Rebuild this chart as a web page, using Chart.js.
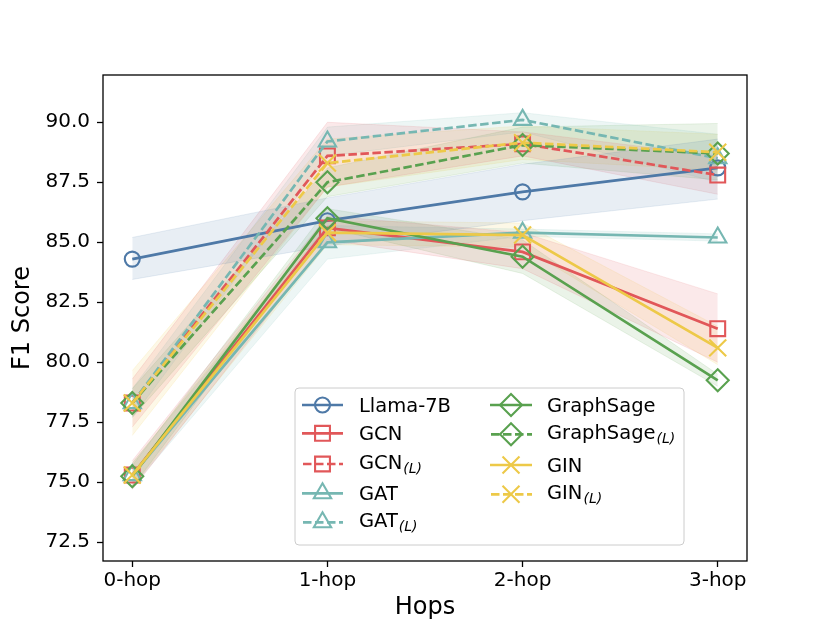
<!DOCTYPE html>
<html>
<head>
<meta charset="utf-8">
<script src="https://cdn.jsdelivr.net/npm/chart.js@4.4.1/dist/chart.umd.min.js"></script>
<style>
  html, body { margin: 0; padding: 0; background: #fff; }
  #wrap { width: 830px; height: 623px; }
</style>
</head>
<body>
<div id="wrap"><canvas id="chart" width="830" height="623"></canvas></div>
<script>
// x positions and tick labels
const hopLabels = ['0-hop', '1-hop', '2-hop', '3-hop'];
const yTicks = [72.5, 75.0, 77.5, 80.0, 82.5, 85.0, 87.5, 90.0];

// mean F1 per hop, with the lower / upper edge of each shaded band
const llama = [84.3, 85.9, 87.1, 88.1];
const llamaLow = [83.45, 84.85, 85.9, 86.8];
const llamaHigh = [85.2, 86.85, 88.25, 89.3];

const gcn = [75.3, 85.6, 84.6, 81.4];
const gcnLow = [74.7, 85.1, 83.9, 80.0];
const gcnHigh = [75.9, 86.1, 85.4, 82.85];

const gcnL = [78.3, 88.6, 89.1, 87.8];
const gcnLLow = [77.3, 87.3, 88.6, 87.0];
const gcnLHigh = [79.3, 90.0, 89.6, 88.6];

const gat = [75.3, 85.0, 85.4, 85.2];
const gatLow = [74.8, 84.3, 85.25, 85.05];
const gatHigh = [75.8, 85.7, 85.55, 85.35];

const gatL = [78.3, 89.2, 90.1, 88.5];
const gatLLow = [77.7, 88.6, 89.6, 87.5];
const gatLHigh = [78.9, 89.8, 90.4, 89.5];

const sage = [75.25, 86.0, 84.4, 79.25];
const sageLow = [74.8, 85.6, 83.7, 79.0];
const sageHigh = [75.7, 86.4, 85.1, 79.5];

const sageL = [78.3, 87.5, 89.05, 88.7];
const sageLLow = [77.7, 86.9, 88.3, 87.6];
const sageLHigh = [78.9, 88.1, 89.8, 89.95];

const gin = [75.3, 85.4, 85.3, 80.6];
const ginLow = [74.8, 84.9, 84.8, 79.9];
const ginHigh = [75.8, 85.9, 85.8, 81.5];

const ginL = [78.3, 88.3, 89.15, 88.75];
const ginLLow = [76.95, 87.3, 88.45, 88.0];
const ginLHigh = [79.65, 89.3, 89.85, 89.5];

const BLUE = '#4e79a7', RED = '#e15759', TEAL = '#76b7b2', GREEN = '#59a14f', YELLOW = '#edc948';

function rgba(hex, a) {
    const n = parseInt(hex.slice(1), 16);
    return `rgba(${n >> 16},${(n >> 8) & 255},${n & 255},${a})`;
}

const series = [
    { name: 'Llama-7B', sub: '', data: llama, low: llamaLow, high: llamaHigh, color: BLUE, style: 'circle', r: 7.5, dashed: false },
    { name: 'GCN', sub: '', data: gcn, low: gcnLow, high: gcnHigh, color: RED, style: 'rect', r: 10.5, dashed: false },
    { name: 'GCN', sub: '(L)', data: gcnL, low: gcnLLow, high: gcnLHigh, color: RED, style: 'rect', r: 10.5, dashed: true },
    { name: 'GAT', sub: '', data: gat, low: gatLow, high: gatHigh, color: TEAL, style: 'triangle', r: 10, dashed: false },
    { name: 'GAT', sub: '(L)', data: gatL, low: gatLLow, high: gatLHigh, color: TEAL, style: 'triangle', r: 10, dashed: true },
    { name: 'GraphSage', sub: '', data: sage, low: sageLow, high: sageHigh, color: GREEN, style: 'rectRot', r: 11, dashed: false },
    { name: 'GraphSage', sub: '(L)', data: sageL, low: sageLLow, high: sageLHigh, color: GREEN, style: 'rectRot', r: 11, dashed: true },
    { name: 'GIN', sub: '', data: gin, low: ginLow, high: ginHigh, color: YELLOW, style: 'crossRot', r: 12, dashed: false },
    { name: 'GIN', sub: '(L)', data: ginL, low: ginLLow, high: ginLHigh, color: YELLOW, style: 'crossRot', r: 12, dashed: true }
];

const pts = arr => arr.map((v, i) => ({ x: i, y: v }));
const DASH = [8.5, 3.5];
const LW = 2.7;
const MW = 2.1;

const datasets = [];
series.forEach((s, i) => {
    // band: lower edge, then upper edge filled down to it
    datasets.push({
        label: s.name + s.sub + ' low', data: pts(s.low), borderColor: rgba(s.color, 0.13),
        borderWidth: 1, pointRadius: 0, fill: false, tension: 0, order: 100 + i
    });
    datasets.push({
        label: s.name + s.sub + ' high', data: pts(s.high), borderColor: rgba(s.color, 0.13),
        backgroundColor: rgba(s.color, 0.13), borderWidth: 1, pointRadius: 0, fill: '-1', tension: 0, order: 100 + i
    });
});
series.forEach((s, i) => {
    datasets.push({
        label: s.name + s.sub, data: pts(s.data), borderColor: s.color, borderWidth: LW,
        borderDash: s.dashed ? DASH : [], pointStyle: s.style, pointRadius: s.r, pointHoverRadius: s.r,
        pointBorderColor: s.color, pointBackgroundColor: 'rgba(0,0,0,0)', pointBorderWidth: MW,
        fill: false, tension: 0, order: 20 - i
    });
});

const FONT = '"DejaVu Sans", sans-serif';

const frameAndLegend = {
    id: 'frameAndLegend',
    afterDatasetsDraw(chart) {
        const { ctx, chartArea: a } = chart;
        ctx.save();
        ctx.strokeStyle = '#000';
        ctx.lineWidth = 1.3;
        ctx.setLineDash([]);
        ctx.strokeRect(a.left, a.top, a.right - a.left, a.bottom - a.top);

        // legend box
        const bx = 295, by = 388, bw = 389, bh = 157, rad = 4;
        ctx.beginPath();
        ctx.moveTo(bx + rad, by);
        ctx.arcTo(bx + bw, by, bx + bw, by + bh, rad);
        ctx.arcTo(bx + bw, by + bh, bx, by + bh, rad);
        ctx.arcTo(bx, by + bh, bx, by, rad);
        ctx.arcTo(bx, by, bx + bw, by, rad);
        ctx.closePath();
        ctx.fillStyle = 'rgba(255,255,255,0.8)';
        ctx.fill();
        ctx.strokeStyle = '#cccccc';
        ctx.lineWidth = 1;
        ctx.stroke();

        const col1 = { x0: 302, x1: 343, tx: 359, ys: [405, 433.3, 464, 493.3, 522.3] };
        const col2 = { x0: 490, x1: 532, tx: 547, ys: [405, 434.3, 465, 494.3] };
        series.forEach((s, i) => {
            const col = i < 5 ? col1 : col2;
            const y = col.ys[i < 5 ? i : i - 5];
            const mx = (col.x0 + col.x1) / 2;
            ctx.strokeStyle = s.color;
            ctx.lineWidth = LW;
            ctx.setLineDash(s.dashed ? DASH : []);
            ctx.lineDashOffset = s.dashed ? -1 : 0;
            ctx.beginPath();
            ctx.moveTo(col.x0, y);
            ctx.lineTo(col.x1, y);
            ctx.stroke();
            ctx.setLineDash([]);
            ctx.lineWidth = MW;
            ctx.fillStyle = 'rgba(0,0,0,0)';
            Chart.helpers.drawPoint(ctx, { pointStyle: s.style, radius: s.r, rotation: 0, borderWidth: MW }, mx, y);

            ctx.fillStyle = '#000';
            ctx.textAlign = 'left';
            ctx.textBaseline = 'alphabetic';
            ctx.font = '19.5px ' + FONT;
            if (s.sub) {
                ctx.fillText(s.name, col.tx, y + 4.5);
                const w = ctx.measureText(s.name).width;
                ctx.font = 'italic 14px ' + FONT;
                ctx.fillText(s.sub, col.tx + w + 1, y + 8.5);
            } else {
                ctx.fillText(s.name, col.tx, y + 7);
            }
        });
        ctx.restore();
    }
};

new Chart(document.getElementById('chart'), {
    type: 'line',
    data: { datasets: datasets },
    options: {
        responsive: false,
        animation: false,
        devicePixelRatio: 1,
        layout: { padding: { top: 75, right: 83, left: 8, bottom: 0 } },
        plugins: {
            legend: { display: false },
            tooltip: { enabled: false }
        },
        scales: {
            x: {
                type: 'linear',
                min: -0.15,
                max: 3.15,
                afterFit: scale => { scale.height = 62; },
                afterBuildTicks: scale => { scale.ticks = hopLabels.map((_, i) => ({ value: i })); },
                ticks: {
                    color: '#000',
                    font: { family: FONT, size: 20 },
                    padding: 2,
                    maxRotation: 0,
                    autoSkip: false,
                    callback: v => hopLabels[v]
                },
                grid: { drawOnChartArea: false, drawTicks: true, tickLength: 6, color: '#000', tickWidth: 1.3 },
                border: { display: false },
                title: { display: true, text: 'Hops', color: '#000', font: { family: FONT, size: 24 }, padding: { top: 0, bottom: 1 } }
            },
            y: {
                min: 71.72,
                max: 91.97,
                afterFit: scale => { scale.width = 95; },
                afterBuildTicks: scale => { scale.ticks = yTicks.map(v => ({ value: v })); },
                ticks: {
                    color: '#000',
                    font: { family: FONT, size: 20 },
                    padding: 7,
                    callback: v => v.toFixed(1)
                },
                grid: { drawOnChartArea: false, drawTicks: true, tickLength: 6, color: '#000', tickWidth: 1.3 },
                border: { display: false },
                title: { display: true, text: 'F1 Score', color: '#000', font: { family: FONT, size: 24 }, padding: { top: 0, bottom: 4 } }
            }
        }
    },
    plugins: [frameAndLegend]
});
</script>
</body>
</html>
